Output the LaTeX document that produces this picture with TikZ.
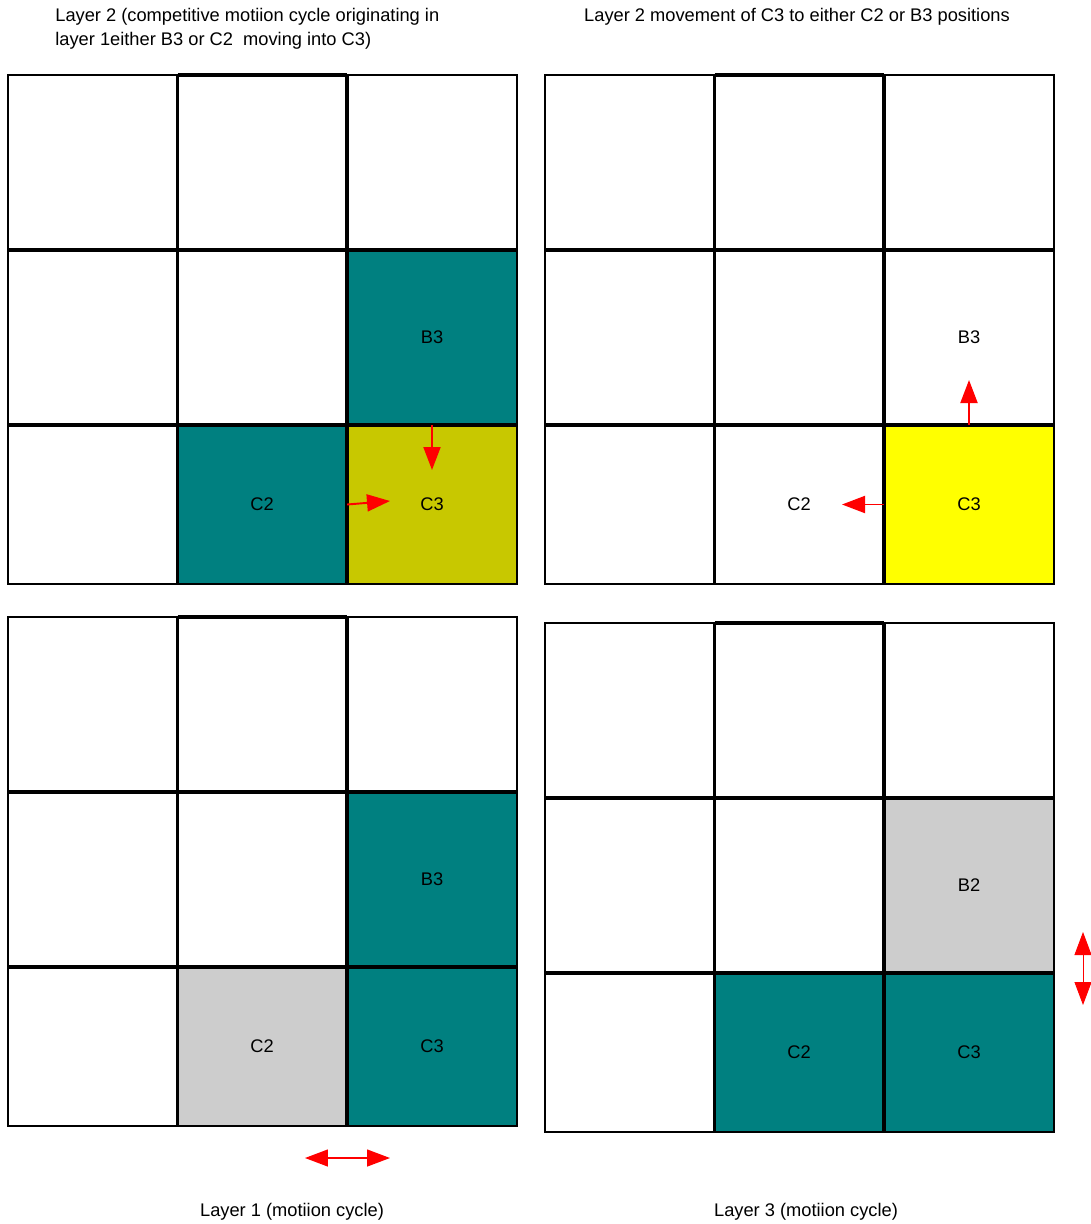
\documentclass[tikz,border=0pt]{standalone}
\usepackage{fontspec}
\setmainfont{Liberation Sans}
\usetikzlibrary{arrows.meta}

\definecolor{tealcell}{RGB}{0,128,128}
\definecolor{olivecell}{RGB}{200,200,0}
\definecolor{greycell}{RGB}{205,205,205}
\definecolor{yellowcell}{RGB}{255,255,0}

\begin{document}
\begin{tikzpicture}[x=0.02cm,y=-0.02cm,
    font=\fontsize{10.4}{13.7}\selectfont,
    cell/.style={rectangle,inner sep=0pt,minimum width=3.39cm,minimum height=3.5cm},
    low_cell/.style={cell,minimum height=3.18cm},
    border_line/.style={draw=black,line width=1.1pt},
    grid_line/.style={draw=black,line width=1.9pt},
    red_arrow/.style={draw=red,line width=1.1pt,-{Triangle[length=0.46cm,width=0.34cm]}},
    both_arrow/.style={draw=red,line width=0.8pt,{Triangle[length=0.46cm,width=0.34cm]}-{Triangle[length=0.46cm,width=0.34cm]}}]
\useasboundingbox (0,0) rectangle (1090,1224);

% titles
\node[anchor=north west,align=left,inner sep=0pt] (title2a) at (55,8)
    {Layer 2 (competitive motiion cycle originating in\\layer 1either B3 or C2\ \ moving into C3)};
\node (title2b) at (797,17) {Layer 2 movement of C3 to either C2 or B3 positions};
\node (layer1) at (292,1212) {Layer 1 (motiion cycle)};
\node (layer3) at (806,1212) {Layer 3 (motiion cycle)};

% layer 2, top left
\begin{scope}[shift={(8,75)}]
    \node[cell,fill=tealcell] (tlB3) at (424,262.5) {B3};
    \node[low_cell,fill=tealcell] (tlC2) at (254,429.5) {C2};
    \node[low_cell,fill=olivecell] (tlC3) at (424,429.5) {C3};
    \draw[border_line] (0,0) rectangle (509,509);
    \draw[grid_line] (169.5,0) -- (169.5,509) (339,0) -- (339,509)
        (0,175) -- (509,175) (0,350) -- (509,350) (169.5,0) -- (339,0);
    \coordinate (tlDown) at (424,395);
    \coordinate (tlRight) at (382,426);
\end{scope}
\draw[red_arrow] (tlB3.south) -- (tlDown);
\draw[red_arrow] (tlC2.east) -- (tlRight);

% layer 2, top right
\begin{scope}[shift={(545,75)}]
    \node[cell] (trB3) at (424,262.5) {B3};
    \node[low_cell] (trC2) at (254,429.5) {C2};
    \node[low_cell,fill=yellowcell] (trC3) at (424,429.5) {C3};
    \draw[border_line] (0,0) rectangle (509,509);
    \draw[grid_line] (169.5,0) -- (169.5,509) (339,0) -- (339,509)
        (0,175) -- (509,175) (0,350) -- (509,350) (169.5,0) -- (339,0);
    \coordinate (trUp) at (424,305);
    \coordinate (trLeft) at (297,429.5);
\end{scope}
\draw[red_arrow] (trC3.north) -- (trUp);
\draw[red_arrow] (trC3.west) -- (trLeft);

% layer 1, bottom left
\begin{scope}[shift={(8,617)}]
    \node[cell,fill=tealcell] (blB3) at (424,262.5) {B3};
    \node[low_cell,fill=greycell] (blC2) at (254,429.5) {C2};
    \node[low_cell,fill=tealcell] (blC3) at (424,429.5) {C3};
    \draw[border_line] (0,0) rectangle (509,509);
    \draw[grid_line] (169.5,0) -- (169.5,509) (339,0) -- (339,509)
        (0,175) -- (509,175) (0,350) -- (509,350) (169.5,0) -- (339,0);
\end{scope}
\coordinate (l1Left) at (305,1158);
\coordinate (l1Right) at (390,1158);
\draw[both_arrow] (l1Left) -- (l1Right);

% layer 3, bottom right
\begin{scope}[shift={(545,623)}]
    \node[cell,fill=greycell] (brB2) at (424,262.5) {B2};
    \node[low_cell,fill=tealcell] (brC2) at (254,429.5) {C2};
    \node[low_cell,fill=tealcell] (brC3) at (424,429.5) {C3};
    \draw[border_line] (0,0) rectangle (509,509);
    \draw[grid_line] (169.5,0) -- (169.5,509) (339,0) -- (339,509)
        (0,175) -- (509,175) (0,350) -- (509,350) (169.5,0) -- (339,0);
\end{scope}
\coordinate (l3Top) at (1083,932);
\coordinate (l3Bottom) at (1083,1005);
\draw[both_arrow,line width=0.5pt] (l3Top) -- (l3Bottom);
\end{tikzpicture}
\end{document}
